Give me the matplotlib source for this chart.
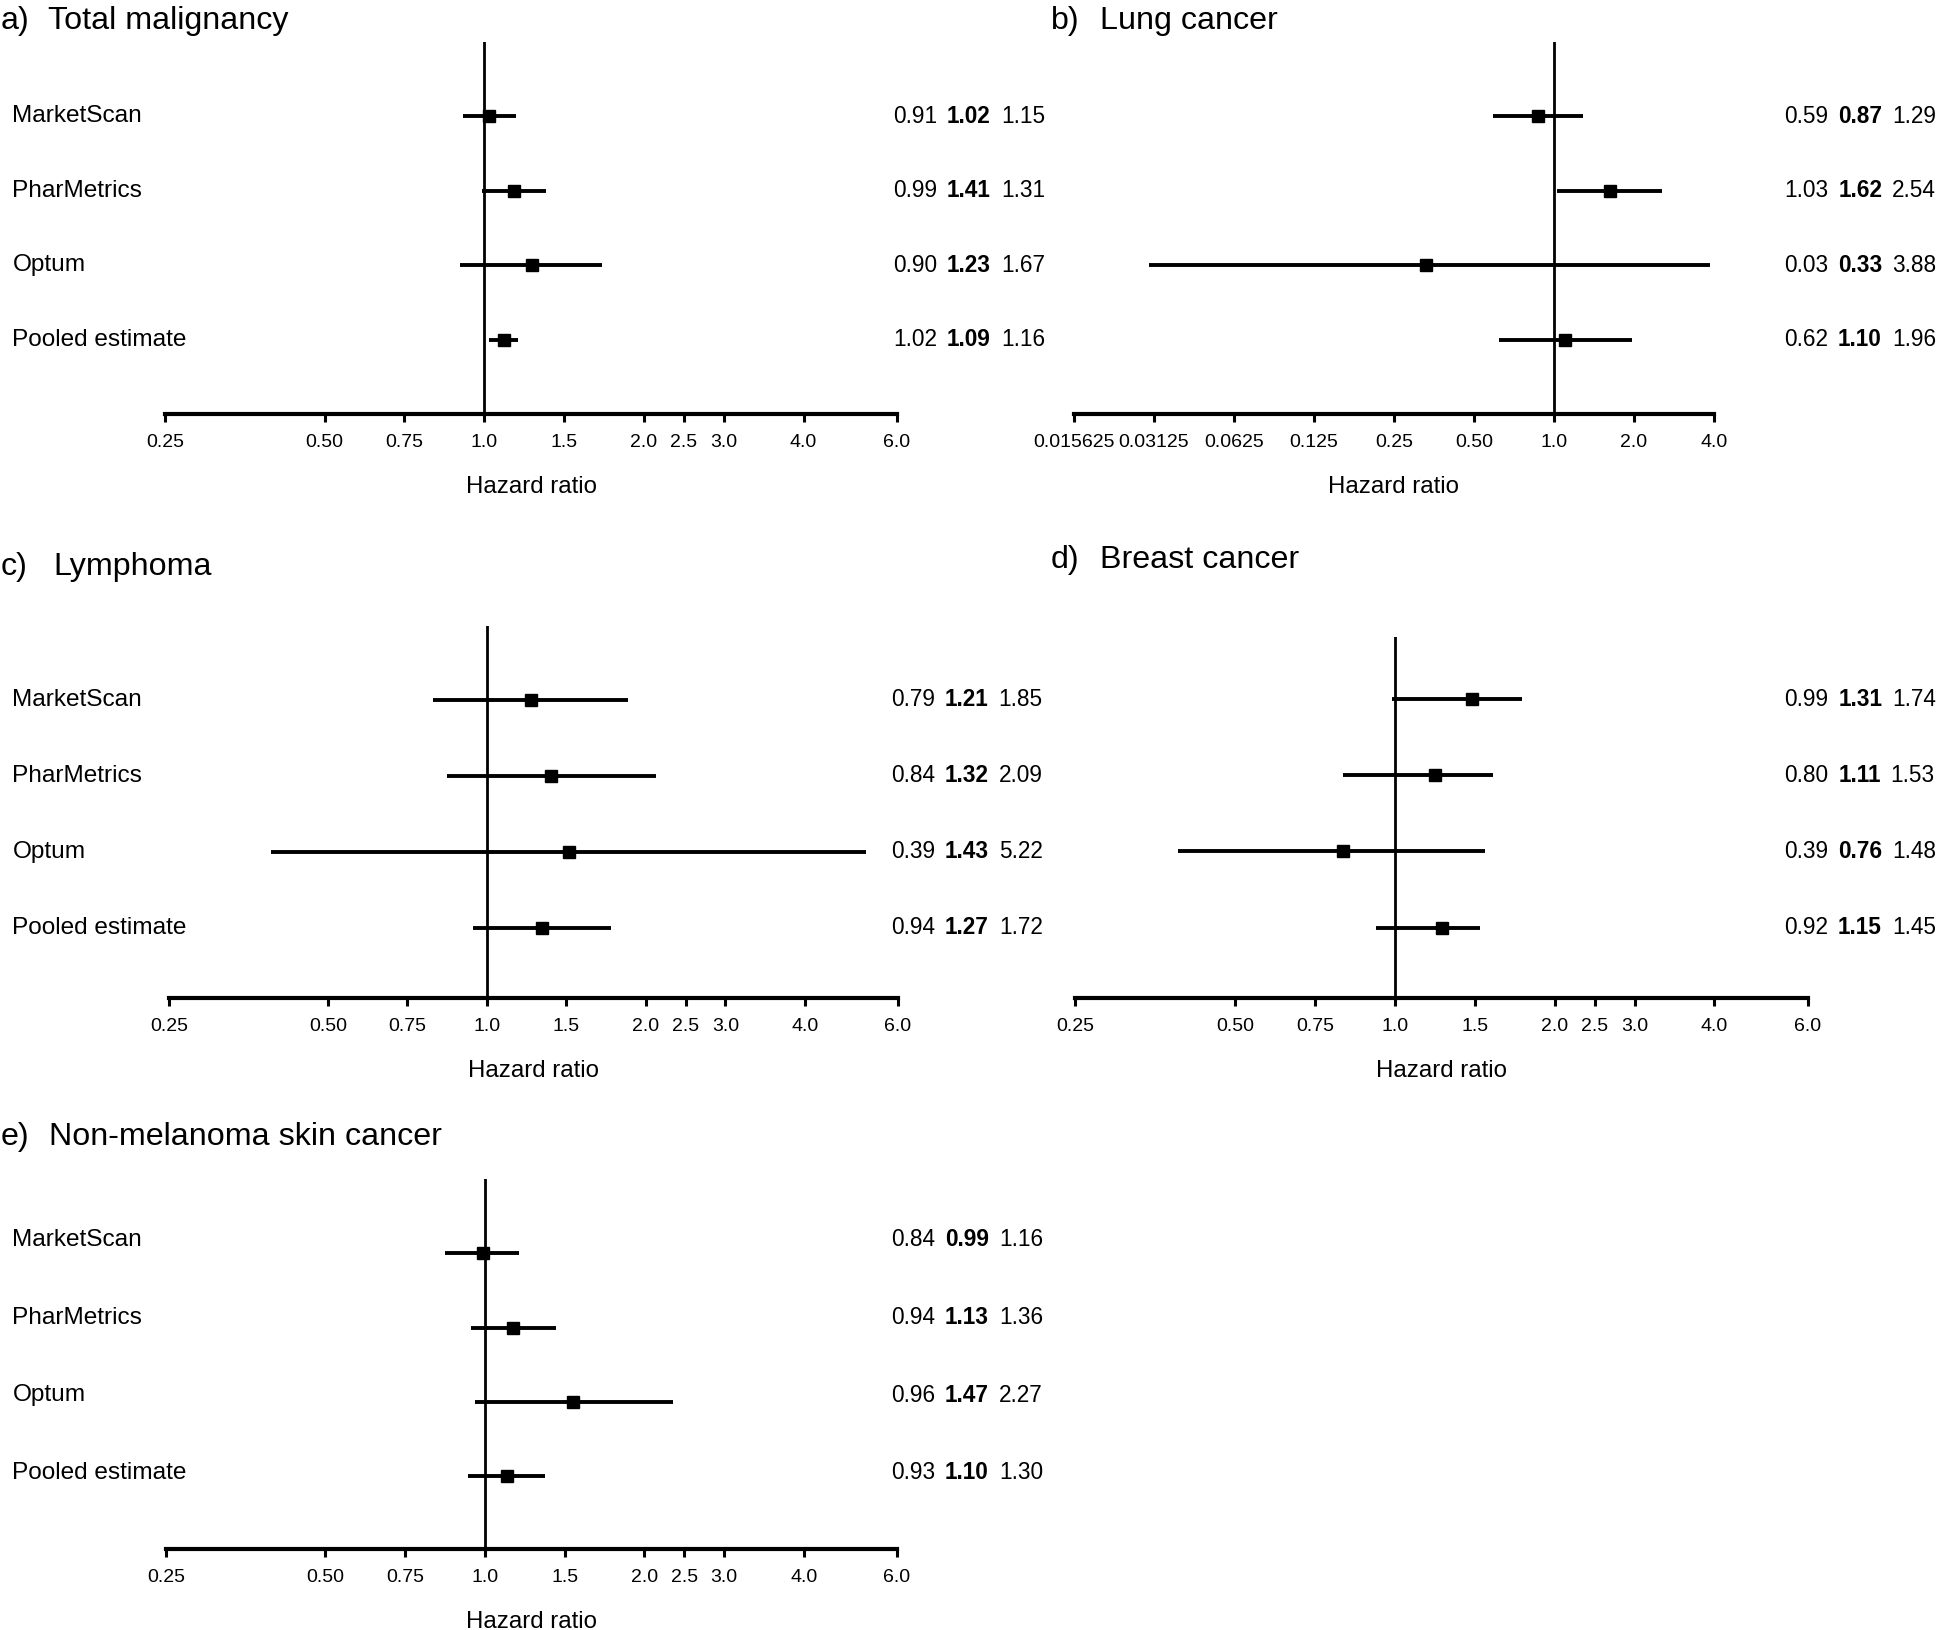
import numpy as np
import matplotlib
matplotlib.use("Agg")
import matplotlib.pyplot as plt
from matplotlib.transforms import blended_transform_factory

plt.rcParams['font.family'] = ['Liberation Sans', 'DejaVu Sans']

W, H = 1945, 1630

sources = ['MarketScan', 'PharMetrics', 'Optum', 'Pooled estimate']

# a) total malignancy
a_lo = [0.91, 0.99, 0.90, 1.02]
a_est = [1.02, 1.14, 1.23, 1.09]
a_hi = [1.15, 1.31, 1.67, 1.16]
a_txt = [('0.91', '1.02', '1.15'), ('0.99', '1.41', '1.31'),
         ('0.90', '1.23', '1.67'), ('1.02', '1.09', '1.16')]

# b) lung cancer
b_lo = [0.59, 1.03, 0.03, 0.62]
b_est = [0.87, 1.62, 0.33, 1.10]
b_hi = [1.29, 2.54, 3.88, 1.96]
b_txt = [('0.59', '0.87', '1.29'), ('1.03', '1.62', '2.54'),
         ('0.03', '0.33', '3.88'), ('0.62', '1.10', '1.96')]

# c) lymphoma
c_lo = [0.79, 0.84, 0.39, 0.94]
c_est = [1.21, 1.32, 1.43, 1.27]
c_hi = [1.85, 2.09, 5.22, 1.72]
c_txt = [('0.79', '1.21', '1.85'), ('0.84', '1.32', '2.09'),
         ('0.39', '1.43', '5.22'), ('0.94', '1.27', '1.72')]

# d) breast cancer
d_lo = [0.99, 0.80, 0.39, 0.92]
d_est = [1.40, 1.19, 0.80, 1.23]
d_hi = [1.74, 1.53, 1.48, 1.45]
d_txt = [('0.99', '1.31', '1.74'), ('0.80', '1.11', '1.53'),
         ('0.39', '0.76', '1.48'), ('0.92', '1.15', '1.45')]

# e) non-melanoma skin cancer
e_lo = [0.84, 0.94, 0.96, 0.93]
e_est = [0.99, 1.13, 1.47, 1.10]
e_hi = [1.16, 1.36, 2.27, 1.30]
e_txt = [('0.84', '0.99', '1.16'), ('0.94', '1.13', '1.36'),
         ('0.96', '1.47', '2.27'), ('0.93', '1.10', '1.30')]

hr_ticks = [0.25, 0.50, 0.75, 1.0, 1.5, 2.0, 2.5, 3.0, 4.0, 6.0]
hr_ticklabels = ['0.25', '0.50', '0.75', '1.0', '1.5', '2.0', '2.5', '3.0', '4.0', '6.0']
lung_ticks = [0.015625, 0.03125, 0.0625, 0.125, 0.25, 0.5, 1.0, 2.0, 4.0]
lung_ticklabels = ['0.015625', '0.03125', '0.0625', '0.125', '0.25', '0.50', '1.0', '2.0', '4.0']


def octave_pos(v):
    # the original places in-between ticks linearly inside each doubling
    k = np.floor(np.log2(v))
    return 2 ** (k + (v - 2 ** k) / 2 ** k)


fig = plt.figure(figsize=(W / 100, H / 100), dpi=100)


def panel(box, letter, title, title_xy, lo, est, hi, txt, ylim,
          ticks, ticklabels, xlim, num_x, show_names, name_stretch=1.0):
    l, r, t, b = box
    ax = fig.add_axes([l / W, 1 - b / H, (r - l) / W, (b - t) / H])
    rows = np.arange(len(sources), 0, -1)
    for y, a0, m, a1 in zip(rows, lo, est, hi):
        ax.plot([a0, a1], [y, y], color='black', lw=2.8, solid_capstyle='butt')
        ax.plot(m, y, marker='s', ms=8.5, color='black')
    ax.axvline(1.0, color='black', lw=2.0)
    ax.set_xscale('log', base=2)
    ax.set_xlim(*xlim)
    ax.set_ylim(*ylim)
    ax.set_xticks(ticks)
    ax.set_xticklabels(ticklabels)
    ax.minorticks_off()
    ax.tick_params(axis='x', direction='out', length=5.5, width=2.2, pad=9, labelsize=14)
    ax.set_yticks([])
    for s in ['left', 'right', 'top']:
        ax.spines[s].set_visible(False)
    ax.spines['bottom'].set_linewidth(3)
    ax.set_xlabel('Hazard ratio', fontsize=17.3, labelpad=18)

    tx, ty = title_xy
    fig.text(tx[0] / W, 1 - ty / H, letter, fontsize=23.2, va='baseline')
    fig.text(tx[1] / W, 1 - ty / H, title, fontsize=23.2, va='baseline')

    blend = blended_transform_factory(fig.transFigure, ax.transData)
    for y, name, (s0, s1, s2) in zip(rows, sources, txt):
        yl = y * name_stretch
        if show_names:
            ax.text(12.5 / W, yl, name, transform=blend, fontsize=17.6,
                    va='center', ha='left', clip_on=False)
        t0 = ax.text(num_x / W, yl, s0, transform=blend, fontsize=16.3,
                     va='center', ha='left', clip_on=False)
        t1 = ax.annotate(s1, xy=(1, 0.5), xycoords=t0, xytext=(7.2, 0),
                         textcoords='offset points', fontsize=16.3,
                         fontweight='bold', va='center', ha='left',
                         annotation_clip=False)
        ax.annotate(s2, xy=(1, 0.5), xycoords=t1, xytext=(7.2, 0),
                    textcoords='offset points', fontsize=16.3,
                    va='center', ha='left', annotation_clip=False)
    return ax


hr_pos = [octave_pos(v) for v in hr_ticks[:-1]] + [hr_ticks[-1]]

panel((165, 897, 41.7, 414.3), 'a)', 'Total malignancy', ((1, 48), 28.5),
      a_lo, a_est, a_hi, a_txt, (0, 5), hr_pos, hr_ticklabels, (0.25, 6.0),
      893, True)
panel((1074, 1714, 41.7, 414.3), 'b)', 'Lung cancer', ((1051, 1100), 28.5),
      b_lo, b_est, b_hi, b_txt, (0, 5), lung_ticks, lung_ticklabels,
      (0.015625, 4.0), 1784, False)
panel((169, 898, 626, 997.5), 'c)', 'Lymphoma', ((1, 53), 575),
      c_lo, c_est, c_hi, c_txt, (0.08, 4.97), hr_pos, hr_ticklabels, (0.25, 6.0),
      891, True)
panel((1075, 1808, 637, 997.5), 'd)', 'Breast cancer', ((1051, 1100), 568),
      d_lo, d_est, d_hi, d_txt, (0.08, 4.82), hr_pos, hr_ticklabels, (0.25, 6.0),
      1784, False)
panel((166, 897, 1179, 1549), 'e)', 'Non-melanoma skin cancer', ((1, 49), 1145),
      e_lo, e_est, e_hi, e_txt, (0.02, 5.0), hr_pos, hr_ticklabels, (0.25, 6.0),
      891, True, name_stretch=1.045)

fig.savefig('out.png', dpi=100)
